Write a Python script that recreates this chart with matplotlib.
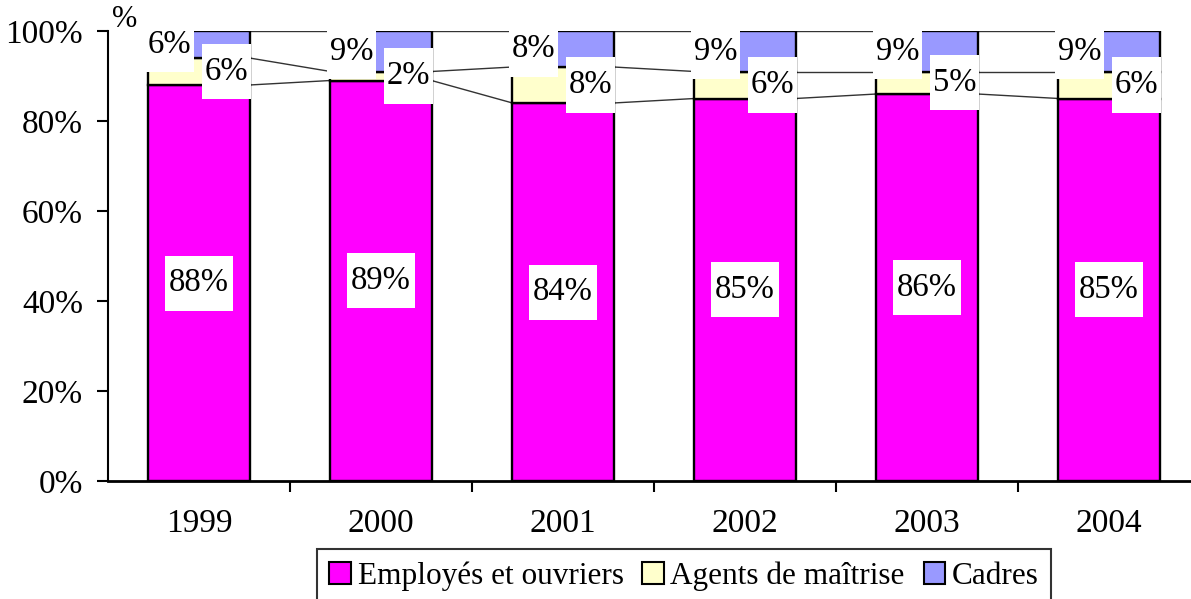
import numpy as np
import matplotlib.pyplot as plt
from matplotlib.patches import Rectangle

plt.rcParams['font.family'] = ['Liberation Serif', 'DejaVu Serif']

years = ['1999', '2000', '2001', '2002', '2003', '2004']
employes = [88, 89, 84, 85, 86, 85]
agents = [6, 2, 8, 6, 5, 6]
cadres = [6, 9, 8, 9, 9, 9]
series_names = ['Employés et ouvriers', 'Agents de maîtrise', 'Cadres']
colors = ['#FF00FF', '#FFFFCC', '#9999FF']

fig = plt.figure(figsize=(11.91, 5.99), dpi=100)
ax = fig.add_axes([108 / 1191, 118 / 599, 1092 / 1191, 450 / 599])

x = np.arange(len(years))
w = 0.555
emp = np.array(employes)
agt = np.array(agents)
cad = np.array(cadres)

ax.bar(x, emp, w, color=colors[0], edgecolor='black', linewidth=1.7, zorder=2)
ax.bar(x, agt, w, bottom=emp, color=colors[1], edgecolor='black', linewidth=1.7, zorder=2)
ax.bar(x, cad, w, bottom=emp + agt, color=colors[2], edgecolor='black', linewidth=1.7, zorder=2)

# series lines between bars
levels = [emp, emp + agt, emp + agt + cad]
for lev in levels:
    for i in range(len(x) - 1):
        ax.plot([x[i] + w / 2, x[i + 1] - w / 2], [lev[i], lev[i + 1]],
                color='#333333', lw=1, zorder=1)

# data labels in white boxes (box size in pixels -> data units)
px_x = 1 / 182.0
px_y = 1 / 4.5


def label(xc, yc, s, z):
    bw = (49 if len(s) == 2 else 68) * px_x
    bh = 55 * px_y
    ax.add_patch(Rectangle((xc - bw / 2, yc - bh / 2), bw, bh,
                           facecolor='white', edgecolor='none', zorder=z,
                           clip_on=False))
    ax.text(xc, yc, s, ha='center', va='center', fontsize=23.5, zorder=z,
            clip_on=False)


for i in range(len(x)):
    label(x[i], emp[i] / 2, f'{employes[i]}%', 5)
    label(x[i] + 0.15, emp[i] + agt[i] / 2, f'{agents[i]}%', 5)
    label(x[i] - 0.16, emp[i] + agt[i] + cad[i] / 2, f'{cadres[i]}%', 4)

ax.text(-0.41, 102.5, '%', ha='center', va='center', fontsize=22, zorder=6,
        clip_on=False)

ax.set_xlim(-0.5, 5.5)
ax.set_ylim(0, 100)
ax.set_yticks(range(0, 101, 20))
ax.set_yticklabels([f'{v}%' for v in range(0, 101, 20)], fontsize=24)
ax.set_xticks(np.arange(0.5, 5.5, 1))
ax.set_xticklabels([])
ax.set_xticks(x, minor=True)
ax.set_xticklabels(years, minor=True, fontsize=24)
ax.tick_params(axis='x', which='major', length=8, width=1.5, direction='out')
ax.tick_params(axis='x', which='minor', length=0, pad=20)
ax.tick_params(axis='y', length=8, width=1.5, pad=10)
for s in ['top', 'right']:
    ax.spines[s].set_visible(False)
ax.spines['left'].set_linewidth(1.5)
ax.spines['bottom'].set_linewidth(2)
ax.spines['bottom'].set_zorder(3)

handles = [Rectangle((0, 0), 1, 1, facecolor=c, edgecolor='black', lw=1.5)
           for c in colors]
leg = fig.legend(handles, series_names, loc='upper center',
                 bbox_to_anchor=(684 / 1191, 1 - 549 / 599), ncol=3,
                 fontsize=22.5, frameon=True, fancybox=False, borderaxespad=0,
                 handlelength=0.7, handleheight=0.7, handletextpad=0.2,
                 columnspacing=0.6, borderpad=0.4)
leg.get_frame().set_edgecolor('black')
leg.get_frame().set_linewidth(1.5)

fig.savefig('out.png', dpi=100)
